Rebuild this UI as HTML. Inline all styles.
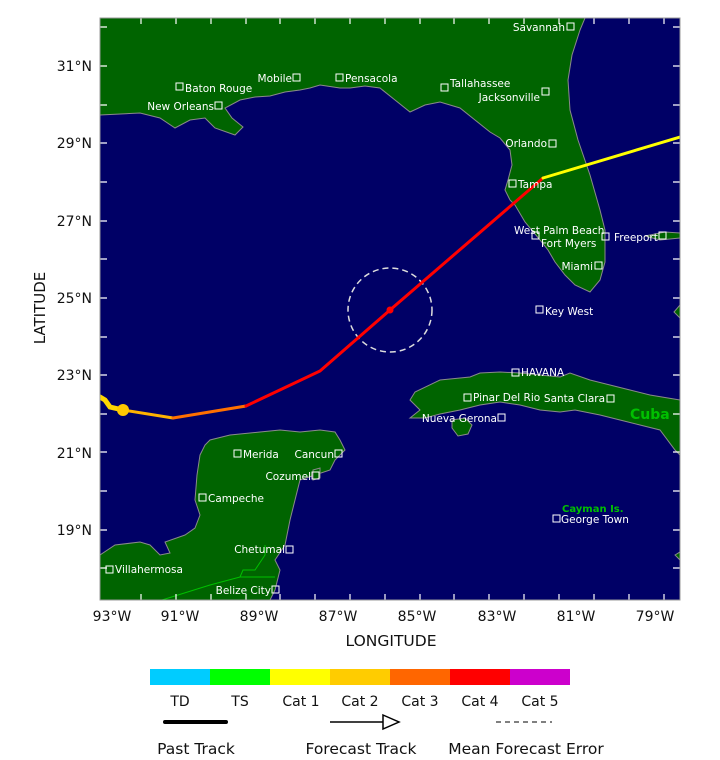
<!DOCTYPE html>
<html><head><style>
body{margin:0;background:#fff;width:720px;height:756px;overflow:hidden;font-family:"DejaVu Sans","Liberation Sans",sans-serif}
svg text{font-family:"DejaVu Sans","Liberation Sans",sans-serif}
</style></head><body>
<svg width="720" height="756" viewBox="0 0 720 756" xmlns="http://www.w3.org/2000/svg">
<defs><clipPath id="c"><rect x="100" y="18" width="580" height="582"/></clipPath></defs>
<rect x="100" y="18" width="580" height="582" fill="#000066"/>
<g clip-path="url(#c)" fill="#006400" stroke="#8a8a8a" stroke-width="1">
<path d="M100,18 L585,18 L580,30 L572,55 L568,80 L570,110 L578,140 L590,175 L600,210 L605,230 L605,262 L600,280 L590,292 L575,285 L565,275 L555,262 L548,250 L540,240 L525,222 L515,205 L510,200 L505,190 L508,180 L512,165 L510,150 L500,138 L490,132 L475,120 L460,108 L440,102 L425,105 L410,112 L395,100 L380,88 L365,86 L350,88 L340,88 L320,85 L310,88 L300,90 L285,92 L270,96 L255,97 L240,100 L225,108 L232,118 L243,127 L235,135 L215,128 L205,118 L190,120 L175,128 L160,118 L140,113 L100,115 Z"/>
<path d="M645,236 L665,232 L680,233 L680,238 L660,240 Z"/>
<path d="M674,312 L680,305 L680,318 Z"/>
<path d="M410,418 L420,410 L410,400 L415,392 L440,380 L470,377 L480,373 L500,372 L520,373 L540,375 L560,377 L570,373 L590,380 L610,385 L630,390 L650,395 L680,400 L680,455 L675,450 L660,430 L640,425 L620,420 L600,415 L585,412 L575,410 L560,412 L540,410 L520,405 L500,402 L480,405 L460,410 L440,414 L425,418 Z"/>
<path d="M452,420 L465,418 L472,425 L468,434 L458,436 L452,428 Z"/>
<path d="M100,555 L115,545 L140,542 L150,545 L160,555 L170,553 L165,542 L185,535 L195,528 L200,515 L195,500 L197,475 L200,455 L205,445 L210,440 L230,435 L260,432 L280,430 L300,432 L320,430 L335,432 L340,440 L345,450 L335,460 L330,470 L300,480 L295,500 L290,520 L285,545 L275,560 L280,570 L275,590 L270,600 L100,600 Z"/>
<path d="M313,470 L320,468 L320,478 L313,480 Z"/>
<path d="M675,555 L680,552 L680,560 Z"/>
</g>
<g clip-path="url(#c)" fill="none" stroke="#00c000" stroke-width="1">
<path d="M162,600 L210,585 L240,577 L275,577"/>
<path d="M240,577 L243,570 L255,570 L265,555 L265,545"/>
</g>
<g clip-path="url(#c)" stroke="#fff" stroke-width="1.2">
<path d="M141,18v6M176,18v6M211,18v6M246,18v6M280,18v6M315,18v6M350,18v6M385,18v6M420,18v6M454,18v6M489,18v6M524,18v6M559,18v6M594,18v6M629,18v6M664,18v6"/>
<path d="M141,600v-6M176,600v-6M211,600v-6M246,600v-6M280,600v-6M315,600v-6M350,600v-6M385,600v-6M420,600v-6M454,600v-6M489,600v-6M524,600v-6M559,600v-6M594,600v-6M629,600v-6M664,600v-6"/>
<path d="M100,27h7M100,66h7M100,105h7M100,143h7M100,182h7M100,221h7M100,259h7M100,298h7M100,337h7M100,375h7M100,414h7M100,452h7M100,491h7M100,530h7M100,568h7"/>
<path d="M680,27h-7M680,66h-7M680,105h-7M680,143h-7M680,182h-7M680,221h-7M680,259h-7M680,298h-7M680,337h-7M680,375h-7M680,414h-7M680,452h-7M680,491h-7M680,530h-7M680,568h-7"/>
</g>
<circle cx="390" cy="310" r="42" fill="none" stroke="#ddd" stroke-width="1.5" stroke-dasharray="6,4"/>
<g clip-path="url(#c)" fill="none" stroke-linecap="round">
<path d="M100,397 L105,400 L110,407 L123,410" stroke="#ffd700" stroke-width="5"/>
<path d="M123,410 L173,418" stroke="#ffb300" stroke-width="3"/>
<path d="M173,418 L246,406" stroke="#ff7000" stroke-width="3"/>
<path d="M246,406 L320,371 L390,310 L543,178" stroke="#ff0000" stroke-width="3"/>
<path d="M543,178 L680,137" stroke="#ffff00" stroke-width="3"/>
</g>
<circle cx="123" cy="410" r="6" fill="#ffc800"/>
<circle cx="390" cy="310" r="3.5" fill="#ff0000"/>
<g fill="none" stroke="#fff" stroke-width="1">
<rect x="567" y="23" width="7" height="7"/><rect x="176" y="83" width="7" height="7"/><rect x="293" y="74" width="7" height="7"/><rect x="336" y="74" width="7" height="7"/><rect x="215" y="102" width="7" height="7"/><rect x="441" y="84" width="7" height="7"/><rect x="542" y="88" width="7" height="7"/><rect x="549" y="140" width="7" height="7"/><rect x="509" y="180" width="7" height="7"/><rect x="532" y="232" width="7" height="7"/><rect x="602" y="233" width="7" height="7"/><rect x="659" y="232" width="7" height="7"/><rect x="595" y="262" width="7" height="7"/><rect x="536" y="306" width="7" height="7"/>
<rect x="512" y="369" width="7" height="7"/><rect x="464" y="394" width="7" height="7"/><rect x="607" y="395" width="7" height="7"/><rect x="498" y="414" width="7" height="7"/><rect x="234" y="450" width="7" height="7"/><rect x="335" y="450" width="7" height="7"/><rect x="312" y="472" width="7" height="7"/><rect x="199" y="494" width="7" height="7"/><rect x="553" y="515" width="7" height="7"/><rect x="286" y="546" width="7" height="7"/><rect x="106" y="566" width="7" height="7"/><rect x="272" y="586" width="7" height="7"/>
</g>
<g fill="#fff" font-size="10.5">
<text x="565" y="31" text-anchor="end">Savannah</text>
<text x="185" y="92">Baton Rouge</text>
<text x="292" y="82" text-anchor="end">Mobile</text>
<text x="345" y="82">Pensacola</text>
<text x="214" y="110" text-anchor="end">New Orleans</text>
<text x="450" y="87">Tallahassee</text>
<text x="540" y="101" text-anchor="end">Jacksonville</text>
<text x="547" y="147" text-anchor="end">Orlando</text>
<text x="518" y="188">Tampa</text>
<text x="514" y="234">West Palm Beach</text>
<text x="541" y="247">Fort Myers</text>
<text x="614" y="241">Freeport</text>
<text x="593" y="270" text-anchor="end">Miami</text>
<text x="545" y="315">Key West</text>
<text x="521" y="376">HAVANA</text>
<text x="473" y="401">Pinar Del Rio</text>
<text x="605" y="402" text-anchor="end">Santa Clara</text>
<text x="497" y="422" text-anchor="end">Nueva Gerona</text>
<text x="243" y="458">Merida</text>
<text x="334" y="458" text-anchor="end">Cancun</text>
<text x="311" y="480" text-anchor="end">Cozumel</text>
<text x="208" y="502">Campeche</text>
<text x="561" y="523">George Town</text>
<text x="285" y="553" text-anchor="end">Chetumal</text>
<text x="115" y="573">Villahermosa</text>
<text x="271" y="594" text-anchor="end">Belize City</text>
</g>
<text x="630" y="419" fill="#00c000" font-size="14" font-weight="bold">Cuba</text>
<text x="562" y="512" fill="#00c000" font-size="10" font-family="Liberation Serif" font-weight="bold">Cayman Is.</text>
<rect x="100" y="18" width="580" height="582" fill="none" stroke="#999" stroke-width="1"/>
<g fill="#111" font-size="14">
<text x="92" y="71" text-anchor="end">31°N</text><text x="92" y="148" text-anchor="end">29°N</text><text x="92" y="226" text-anchor="end">27°N</text><text x="92" y="303" text-anchor="end">25°N</text><text x="92" y="380" text-anchor="end">23°N</text><text x="92" y="458" text-anchor="end">21°N</text><text x="92" y="535" text-anchor="end">19°N</text>
<text x="112" y="621" text-anchor="middle">93°W</text><text x="180" y="621" text-anchor="middle">91°W</text><text x="259" y="621" text-anchor="middle">89°W</text><text x="338" y="621" text-anchor="middle">87°W</text><text x="417" y="621" text-anchor="middle">85°W</text><text x="497" y="621" text-anchor="middle">83°W</text><text x="576" y="621" text-anchor="middle">81°W</text><text x="655" y="621" text-anchor="middle">79°W</text>
<text x="391" y="646" text-anchor="middle" font-size="15.5">LONGITUDE</text>
<text transform="translate(45,308) rotate(-90)" text-anchor="middle" font-size="15">LATITUDE</text>
</g>
<rect x="150" y="669" width="60" height="16" fill="#00ccff"/><rect x="210" y="669" width="60" height="16" fill="#00ff00"/><rect x="270" y="669" width="60" height="16" fill="#ffff00"/><rect x="330" y="669" width="60" height="16" fill="#ffcc00"/><rect x="390" y="669" width="60" height="16" fill="#ff6600"/><rect x="450" y="669" width="60" height="16" fill="#ff0000"/><rect x="510" y="669" width="60" height="16" fill="#cc00cc"/>
<g fill="#111" font-size="14" text-anchor="middle">
<text x="180" y="706">TD</text><text x="240" y="706">TS</text><text x="301" y="706">Cat 1</text><text x="360" y="706">Cat 2</text><text x="420" y="706">Cat 3</text><text x="480" y="706">Cat 4</text><text x="540" y="706">Cat 5</text>
</g>
<g fill="#111" font-size="15.5" text-anchor="middle">
<text x="196" y="754">Past Track</text><text x="361" y="754">Forecast Track</text><text x="526" y="754">Mean Forecast Error</text>
</g>
<line x1="165" y1="722" x2="226" y2="722" stroke="#000" stroke-width="4" stroke-linecap="round"/>
<line x1="330" y1="722" x2="383" y2="722" stroke="#000" stroke-width="1.5"/>
<path d="M383,715 L399,722 L383,729 Z" fill="#fff" stroke="#000" stroke-width="1.5"/>
<line x1="496" y1="722" x2="552" y2="722" stroke="#000" stroke-width="1" stroke-dasharray="5,4"/>
</svg>
</body></html>
